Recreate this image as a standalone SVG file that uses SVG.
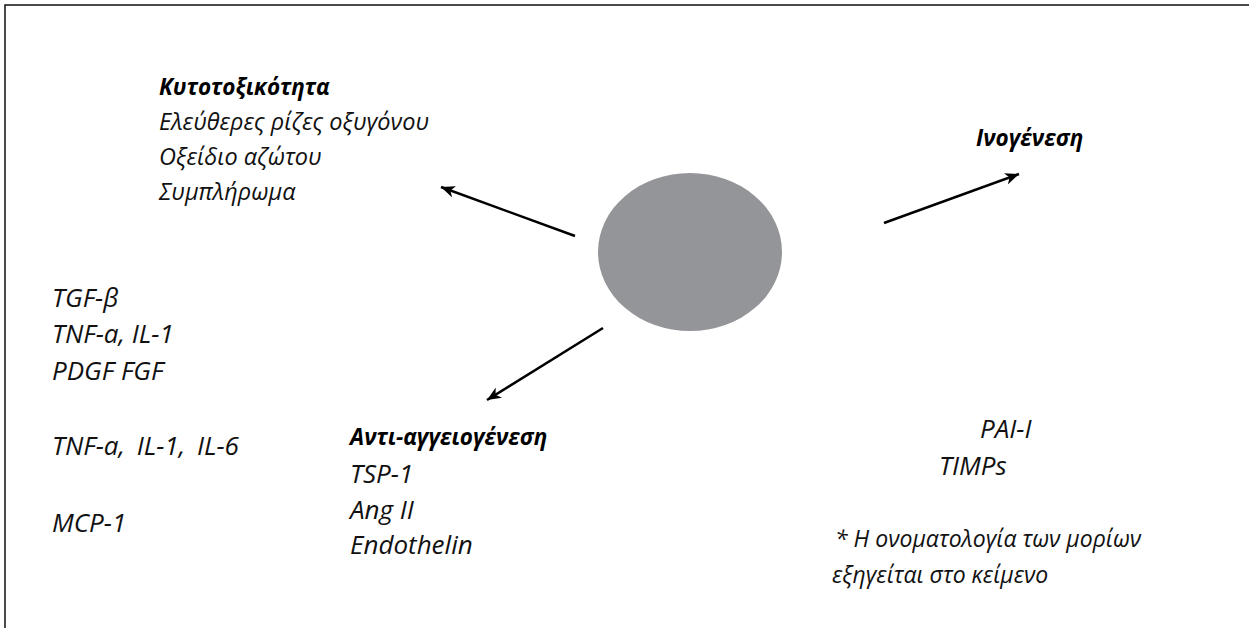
<svg xmlns="http://www.w3.org/2000/svg" width="1249" height="628" viewBox="0 0 1249 628">
<defs>
<marker id="ah" viewBox="0 0 14 12" markerWidth="14" markerHeight="12" refX="14" refY="6" orient="auto" markerUnits="userSpaceOnUse">
<path d="M0,0 L14,6 L0,12 L4,6 z" fill="#000"/>
</marker>
<style>
.g{font-family:"Open Sans","Noto Sans","DejaVu Sans",sans-serif;font-style:italic;font-size:23.5px;fill:#111}
.t{font-family:"Open Sans","Noto Sans","DejaVu Sans",sans-serif;font-style:italic;font-size:26px;fill:#111}
.b{font-family:"Open Sans","Noto Sans","DejaVu Sans",sans-serif;font-style:italic;font-weight:bold;font-size:22.5px;fill:#000}
.s{font-family:"Open Sans","Noto Sans","DejaVu Sans",sans-serif;font-style:italic;font-size:23px;fill:#111}
.c{stroke:#000;stroke-width:2.5;fill:none;marker-end:url(#ah)}
</style>
</defs>
<rect x="5" y="5" width="1300" height="700" fill="#fff" stroke="#111" stroke-width="1.5"/>
<g id="center"><ellipse cx="690" cy="252" rx="92" ry="79" fill="#939598"/></g>
<g id="connectors">
<line class="c" x1="575" y1="236" x2="441" y2="187"/>
<line class="c" x1="884" y1="223" x2="1019" y2="174"/>
<line class="c" x1="603" y1="328" x2="487" y2="400"/>
</g>
<g id="cytotoxicity">
<text class="b" x="159" y="95">Κυτοτοξικότητα</text>
<text class="g" x="159" y="130">Ελεύθερες ρίζες οξυγόνου</text>
<text class="g" x="159" y="165">Οξείδιο αζώτου</text>
<text class="g" x="159" y="200">Συμπλήρωμα</text>
</g>
<g id="fibrogenesis"><text class="b" x="976" y="146">Ινογένεση</text></g>
<g id="left-factors">
<text class="t" x="52" y="307">TGF-β</text>
<text class="t" x="52" y="343">TNF-a, IL-1</text>
<text class="t" x="52" y="380">PDGF FGF</text>
<text class="t" x="52" y="455" word-spacing="5">TNF-a, IL-1, IL-6</text>
<text class="t" x="52" y="532">MCP-1</text>
</g>
<g id="antiangiogenesis">
<text class="b" x="350" y="445">Αντι-αγγειογένεση</text>
<text class="t" x="350" y="483">TSP-1</text>
<text class="t" x="350" y="519">Ang II</text>
<text class="t" x="350" y="554">Endothelin</text>
</g>
<g id="right-factors">
<text class="t" x="980" y="438">PAI-I</text>
<text class="t" x="939" y="475">TIMPs</text>
</g>
<g id="note">
<text class="s" x="835" y="547">* Η ονοματολογία των μορίων</text>
<text class="s" x="832" y="583">εξηγείται στο κείμενο</text>
</g>
</svg>
